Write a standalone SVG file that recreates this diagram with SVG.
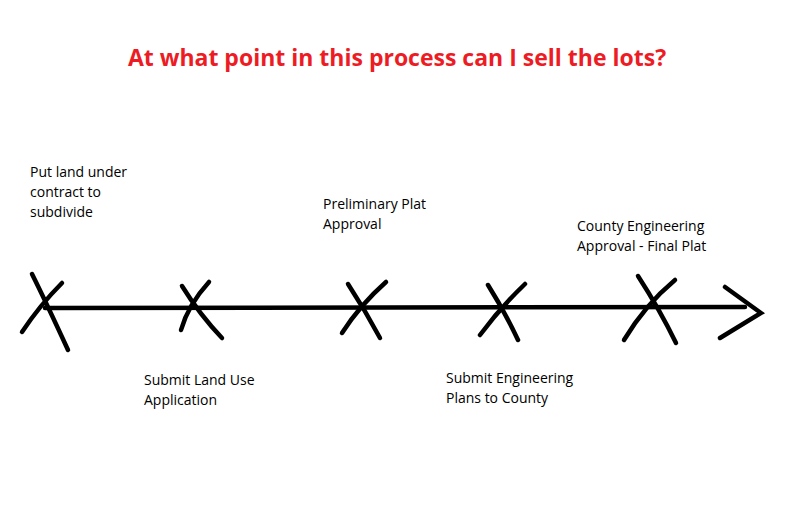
<svg xmlns="http://www.w3.org/2000/svg" width="800" height="506" viewBox="0 0 800 506">
<style>
.t{font-family:"Open Sans","Liberation Sans",sans-serif;font-size:14px;fill:#000}
.x{stroke:#000;stroke-width:4.5;stroke-linecap:round;fill:none}
</style>
<rect width="800" height="506" fill="#fff"/>
<text x="397" y="66" text-anchor="middle" font-family="Open Sans,Liberation Sans,sans-serif" font-weight="bold" font-size="23" fill="#ed1c24">At what point in this process can I sell the lots?</text>
<g id="connectors">
<path class="x" d="M45 308 L745 307" stroke-width="4"/>
<path class="x" d="M725 287 L761 313 L720 338"/>
</g>
<g id="n1"><path class="x" d="M32 274 Q45 300 68 350 M62 283 Q40 305 22 332"/><text class="t"><tspan x="30" y="177">Put land under</tspan><tspan x="30" y="197">contract to</tspan><tspan x="30" y="217">subdivide</tspan></text></g>
<g id="n2"><path class="x" d="M182 286 Q200 315 222 338 M209 282 Q188 305 181 330"/><text class="t"><tspan x="144" y="385">Submit Land Use</tspan><tspan x="144" y="405">Application</tspan></text></g>
<g id="n3"><path class="x" d="M348 284 Q365 310 380 338 M386 282 Q360 305 342 333"/><text class="t"><tspan x="323" y="209">Preliminary Plat</tspan><tspan x="323" y="229">Approval</tspan></text></g>
<g id="n4"><path class="x" d="M488 285 Q505 312 518 340 M525 284 Q500 308 480 335"/><text class="t"><tspan x="446" y="383">Submit Engineering</tspan><tspan x="446" y="403">Plans to County</tspan></text></g>
<g id="n5"><path class="x" d="M638 276 Q660 310 676 343 M675 280 Q645 305 624 340"/><text class="t"><tspan x="577" y="231">County Engineering</tspan><tspan x="577" y="251">Approval - Final Plat</tspan></text></g>
</svg>
